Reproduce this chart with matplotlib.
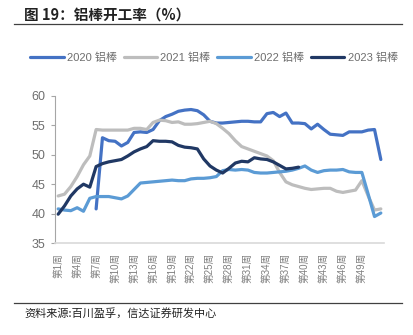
import numpy as np
import matplotlib
matplotlib.use("Agg")
import matplotlib.pyplot as plt
from matplotlib.lines import Line2D

plt.rcParams['font.family'] = ['Liberation Sans', 'Noto Sans CJK SC', 'DejaVu Sans']

weeks = list(range(1, 53))
tick_weeks = list(range(1, 50, 3))
tick_labels = [f"第{w}周" for w in tick_weeks]

series_names = ["2020 铝棒", "2021 铝棒", "2022 铝棒", "2023 铝棒"]
colors = ["#4472C4", "#BDBDBD", "#5B9BD5", "#203864"]

nan = np.nan
y2020 = [nan, nan, nan, nan, nan, nan, 40.8, 52.9, 52.4, 52.3, 51.5, 52.1, 53.8, 53.9, 53.8, 54.3,
         55.8, 56.5, 56.9, 57.4, 57.6, 57.7, 57.5, 56.8, 55.7, 55.4, 55.4, 55.5, 55.6, 55.7, 55.7, 55.6,
         55.6, 57.0, 57.2, 56.5, 57.1, 55.4, 55.4, 55.3, 54.4, 55.2, 54.3, 53.5, 53.4, 53.3, 53.9, 53.9,
         53.9, 54.2, 54.3, 49.2]
y2021 = [43.0, 43.3, 44.6, 46.3, 48.3, 49.8, 54.3, 54.2, 54.2, 54.2, 54.2, 54.2, 54.5, 54.5, 54.3, 55.5,
         55.9, 55.8, 55.5, 55.6, 55.2, 55.2, 55.3, 55.5, 55.7, 55.3, 54.5, 53.6, 52.4, 51.4, 51.0, 50.6,
         50.2, 49.8, 49.0, 47.0, 45.4, 44.9, 44.6, 44.3, 44.1, 44.2, 44.3, 44.3, 43.8, 43.6, 43.8, 44.0,
         45.6, 43.0, 40.6, 40.8]
y2022 = [40.8, 40.6, 40.5, 41.0, 40.4, 42.6, 42.9, 42.9, 42.9, 42.7, 42.5, 43.0, 44.1, 45.2, 45.3, 45.4,
         45.5, 45.6, 45.7, 45.6, 45.6, 45.9, 46.0, 46.0, 46.1, 46.3, 47.3, 47.5, 47.4, 47.5, 47.4, 47.0,
         46.9, 46.9, 47.0, 47.1, 47.2, 47.4, 47.7, 48.1, 47.4, 47.0, 47.3, 47.4, 47.4, 47.5, 47.1, 47.0,
         47.0, 43.3, 39.5, 40.1]
y2023 = [39.9, 41.3, 43.0, 44.2, 45.0, 44.5, 48.0, 48.5, 48.8, 49.0, 49.2, 49.8, 50.5, 51.0, 51.4, 52.4,
         52.3, 52.3, 52.2, 51.6, 51.3, 51.2, 51.0, 49.3, 48.1, 47.4, 46.9, 47.7, 48.6, 48.9, 48.8, 49.5,
         49.3, 49.2, 48.8, 48.2, 47.6, 47.7, 47.9]

W, H = 414, 335
fig = plt.figure(figsize=(W / 100, H / 100), dpi=100)
ax = fig.add_axes([55 / W, 1 - 243 / H, (384 - 55) / W, (243 - 96) / H])

data = [y2020, y2021, y2022, y2023]
for name, c, ys in zip(series_names, colors, data):
    ax.plot(weeks[:len(ys)], ys, color=c, lw=2.3, solid_joinstyle='round',
            solid_capstyle='round', label=name)

ax.set_xlim(0.5, 52.5)
ax.set_ylim(35, 60)
ax.set_yticks([35, 40, 45, 50, 55, 60])
ax.set_xticks(tick_weeks)
ax.set_xticklabels(tick_labels, rotation=90, fontsize=7, color='#7F7F7F')
ax.tick_params(axis='x', length=0, pad=7)
ax.tick_params(axis='y', length=3, width=0.8, color='#A6A6A6', labelsize=9,
               labelcolor='#6E6E6E', pad=4)
for s in ['top', 'right']:
    ax.spines[s].set_visible(False)
ax.spines['left'].set_color('#A6A6A6')
ax.spines['left'].set_linewidth(0.8)
ax.spines['bottom'].set_color('#D9D9D9')
ax.spines['bottom'].set_linewidth(1.2)

handles = [Line2D([], [], color=c, lw=2.3, solid_capstyle='round') for c in colors]
leg = fig.legend(handles, series_names, loc='center', bbox_to_anchor=(214 / W, 1 - 58 / H),
                 ncol=4, frameon=False, fontsize=8, handlelength=3.0, handletextpad=0.3,
                 columnspacing=0.6, borderpad=0)
for t in leg.get_texts():
    t.set_color('#6E6E6E')

fig.text(24 / W, 1 - 15 / H, "图 19：铝棒开工率（%）", fontsize=10.5, fontweight='bold',
         color='#222222', va='center', ha='left',
         family=['Noto Sans CJK SC', 'DejaVu Sans'])
fig.add_artist(Line2D([14 / W, 402 / W], [1 - 24 / H, 1 - 24 / H], color='#404040', lw=0.9))
fig.add_artist(Line2D([14 / W, 402 / W], [1 - 303 / H, 1 - 303 / H], color='#404040', lw=0.9))
fig.text(24 / W, 1 - 313 / H, "资料来源:百川盈孚，信达证券研发中心", fontsize=8,
         color='#222222', va='center', ha='left', style='italic',
         family=['Noto Sans CJK SC', 'DejaVu Sans'])

fig.savefig("out.png", dpi=100)
